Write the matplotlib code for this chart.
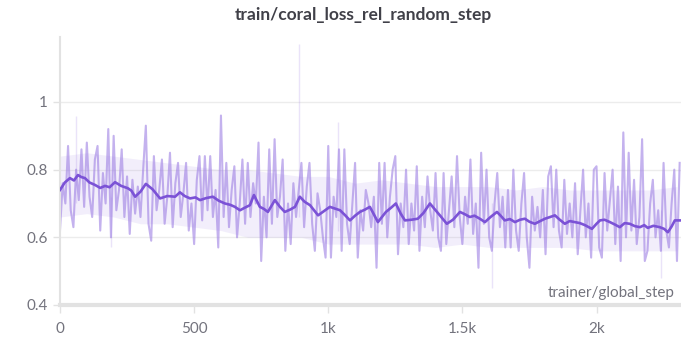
import numpy as np
import matplotlib
matplotlib.use('Agg')
import matplotlib.pyplot as plt
from matplotlib.ticker import FuncFormatter

# raw loss, logged every 10 steps
raw_steps = np.arange(0, 2320, 10)
raw_loss = [
  0.62, 0.76, 0.70, 0.87, 0.68, 0.63, 0.80, 0.71, 0.86, 0.69,
  0.88, 0.72, 0.66, 0.83, 0.87, 0.62, 0.79, 0.70, 0.92, 0.60,
  0.90, 0.68, 0.74, 0.86, 0.66, 0.78, 0.61, 0.77, 0.67, 0.75,
  0.66, 0.80, 0.93, 0.64, 0.59, 0.84, 0.68, 0.74, 0.83, 0.64,
  0.72, 0.85, 0.63, 0.76, 0.82, 0.66, 0.73, 0.82, 0.62, 0.70,
  0.58, 0.77, 0.84, 0.65, 0.84, 0.68, 0.84, 0.66, 0.74, 0.57,
  0.96, 0.66, 0.82, 0.63, 0.74, 0.81, 0.60, 0.70, 0.83, 0.64,
  0.82, 0.66, 0.76, 0.70, 0.88, 0.53, 0.72, 0.60, 0.86, 0.64,
  0.89, 0.66, 0.72, 0.83, 0.56, 0.70, 0.58, 0.76, 0.66, 0.74,
  0.82, 0.63, 0.75, 0.82, 0.64, 0.56, 0.73, 0.68, 0.60, 0.54,
  0.87, 0.54, 0.72, 0.66, 0.86, 0.56, 0.86, 0.64, 0.58, 0.70,
  0.82, 0.54, 0.68, 0.62, 0.74, 0.70, 0.63, 0.72, 0.51, 0.82,
  0.64, 0.82, 0.60, 0.72, 0.80, 0.84, 0.55, 0.70, 0.63, 0.80,
  0.58, 0.70, 0.62, 0.81, 0.56, 0.72, 0.63, 0.78, 0.68, 0.62,
  0.79, 0.60, 0.56, 0.79, 0.58, 0.68, 0.78, 0.63, 0.84, 0.66,
  0.58, 0.72, 0.64, 0.83, 0.61, 0.70, 0.51, 0.85, 0.64, 0.80,
  0.60, 0.56, 0.70, 0.79, 0.63, 0.72, 0.57, 0.74, 0.57, 0.80,
  0.62, 0.56, 0.70, 0.79, 0.60, 0.51, 0.72, 0.62, 0.69, 0.60,
  0.74, 0.55, 0.78, 0.81, 0.63, 0.80, 0.62, 0.57, 0.77, 0.61,
  0.70, 0.60, 0.76, 0.55, 0.68, 0.80, 0.60, 0.70, 0.54, 0.80,
  0.81, 0.57, 0.54, 0.79, 0.62, 0.71, 0.80, 0.58, 0.75, 0.53,
  0.91, 0.60, 0.85, 0.62, 0.77, 0.58, 0.66, 0.89, 0.53, 0.56,
  0.70, 0.77, 0.60, 0.68, 0.56, 0.82, 0.62, 0.57, 0.70, 0.80,
  0.53, 0.82,
]

# smoothed curve
smooth_steps = [0, 18, 37, 52, 67, 80, 93, 110, 130, 150, 168, 185, 205, 228, 253, 266, 280, 300,
                320, 345, 373, 400, 429, 447, 465, 485, 505, 522, 545, 570, 592,
                615, 635, 652, 671, 690, 708, 723, 745, 760, 775, 801, 820, 838, 858, 876, 894,
                912, 932, 962, 985, 1006, 1025, 1044, 1062, 1081, 1100, 1118, 1137, 1155, 1170,
                1185, 1200, 1215, 1235, 1252, 1270, 1286, 1310, 1334, 1355, 1379, 1398, 1416,
                1442, 1465, 1491, 1510, 1528, 1545, 1565, 1584, 1605, 1629, 1645, 1658, 1677,
                1696, 1715, 1733, 1750, 1770, 1790, 1808, 1827, 1845, 1863, 1882, 1900, 1919,
                1938, 1957, 1983, 2000, 2013, 2030, 2050, 2068, 2087, 2105, 2124, 2143, 2162,
                2178, 2191, 2212, 2236, 2252, 2266, 2280, 2292, 2315]
smooth_loss = [0.74, 0.762, 0.775, 0.768, 0.784, 0.778, 0.775, 0.762, 0.755, 0.746, 0.752, 0.748,
               0.763, 0.752, 0.745, 0.738, 0.72, 0.735, 0.758, 0.742, 0.715, 0.722, 0.72, 0.733,
               0.722, 0.715, 0.718, 0.71, 0.716, 0.72, 0.708,
               0.70, 0.696, 0.69, 0.68, 0.688, 0.695, 0.725, 0.69, 0.684, 0.675, 0.71, 0.69, 0.675,
               0.682, 0.69, 0.72, 0.705, 0.695, 0.665, 0.678, 0.69, 0.685, 0.68, 0.666, 0.65,
               0.664, 0.675, 0.682, 0.69, 0.668, 0.645, 0.66, 0.675, 0.688, 0.70, 0.67, 0.65,
               0.652, 0.655, 0.672, 0.70, 0.682, 0.665, 0.64, 0.652, 0.675, 0.668, 0.66, 0.664,
               0.655, 0.645, 0.66, 0.675, 0.662, 0.65, 0.654, 0.645, 0.652, 0.655, 0.646, 0.64,
               0.648, 0.655, 0.66, 0.665, 0.652, 0.64, 0.648, 0.645, 0.642, 0.636, 0.625, 0.64,
               0.65, 0.652, 0.645, 0.638, 0.63, 0.642, 0.64, 0.633, 0.63, 0.636, 0.628, 0.634,
               0.63, 0.625, 0.615, 0.632, 0.65, 0.65]

# min/max band of the sampled buckets
band_steps = np.arange(0, 2400, 100)
band_lo = [0.66, 0.67, 0.66, 0.64, 0.64, 0.63, 0.62, 0.60, 0.60, 0.60, 0.58, 0.58,
           0.58, 0.58, 0.57, 0.58, 0.57, 0.57, 0.57, 0.57, 0.56, 0.56, 0.56, 0.56]
band_hi = [0.84, 0.85, 0.84, 0.83, 0.82, 0.81, 0.80, 0.80, 0.79, 0.78, 0.78, 0.76,
           0.77, 0.76, 0.75, 0.75, 0.75, 0.74, 0.75, 0.74, 0.74, 0.74, 0.74, 0.75]

# single outliers
spike_steps = [60, 190, 892, 1036, 1610, 2240]
spike_lo = [0.70, 0.57, 0.66, 0.62, 0.45, 0.48]
spike_hi = [0.96, 0.72, 1.17, 0.94, 0.70, 0.68]

purple = '#7b52d6'
raw_color = '#a083e4'
grid_color = '#ececec'
axis_color = '#e2e2e2'
text_color = '#73737d'

plt.rcParams['font.family'] = ['Lato', 'DejaVu Sans']

fig = plt.figure(figsize=(6.81, 3.37), dpi=100)
ax = fig.add_axes([60/681, 32/337, 621/681, 268/337])

ax.fill_between(band_steps, band_lo, band_hi, color=raw_color, alpha=0.13, lw=0, zorder=1)
ax.vlines(spike_steps, spike_lo, spike_hi, color=raw_color, alpha=0.22, lw=1.0, zorder=1)
ax.plot(raw_steps, raw_loss, color=raw_color, alpha=0.62, lw=1.5, zorder=2)
ax.plot(smooth_steps, smooth_loss, color=purple, lw=1.9, zorder=3)

ax.set_xlim(0, 2315)
ax.set_ylim(0.4, 1.192)
ax.set_yticks([0.4, 0.6, 0.8, 1.0])
ax.set_xticks([0, 500, 1000, 1500, 2000])
ax.yaxis.set_major_formatter(FuncFormatter(lambda v, p: f'{v:g}'))
ax.xaxis.set_major_formatter(FuncFormatter(lambda v, p: f'{v/1000:g}k' if v >= 1000 else f'{v:g}'))

ax.grid(axis='y', color=grid_color, lw=1.0, zorder=0)
ax.set_axisbelow(True)
for side in ['top', 'right']:
  ax.spines[side].set_visible(False)
ax.spines['left'].set_color(axis_color)
ax.spines['left'].set_linewidth(1.5)
ax.spines['bottom'].set_color(axis_color)
ax.spines['bottom'].set_linewidth(3.0)

ax.tick_params(axis='both', colors=axis_color, labelcolor=text_color, labelsize=11, width=1.0)
ax.tick_params(axis='y', length=5, pad=4)
ax.tick_params(axis='x', length=6, pad=6)

ax.text(0.99, 0.045, 'trainer/global_step', transform=ax.transAxes, ha='right', va='center',
        fontsize=11, color=text_color)

fig.text(363/681, 1 - 15/337, 'train/coral_loss_rel_random_step', ha='center', va='center',
         fontsize=12.5, fontweight='bold', color='#404048')

fig.savefig('out.png', dpi=100)
